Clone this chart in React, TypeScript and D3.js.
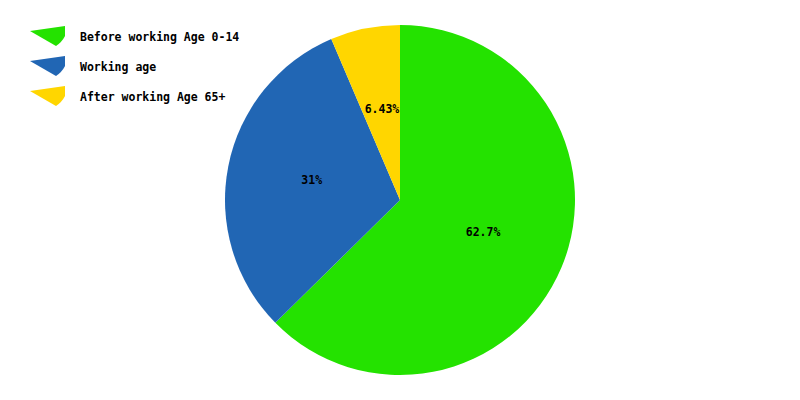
import React from "react";
import * as d3 from "d3";

const categories = ["Before working Age 0-14", "Working age", "After working Age 65+"];
const values = [62.7, 31, 6.43];
const labels = ["62.7%", "31%", "6.43%"];
const colors = ["#24e200", "#2166b4", "#ffd600"];

export default function App() {
  const W = 800, H = 400;
  const cx = 400, cy = 200, R = 175;
  const pie = d3.pie<number>().sort(null).value((d) => d).startAngle(0).endAngle(2 * Math.PI);
  const arcs = pie(values);
  const arc = d3.arc<d3.PieArcDatum<number>>().innerRadius(0).outerRadius(R);
  const labelArc = d3.arc<d3.PieArcDatum<number>>().innerRadius(180).outerRadius(0);
  const font = "'DejaVu Sans Mono', monospace";
  const iconPath = "M30,31 L65,26 L65,36 Q62,42 56,46 Z";
  return (
    <svg width={W} height={H} style={{ position: "absolute", left: 0, top: 0 }}>
      <rect width={W} height={H} fill="#fff" />
      <g transform={`translate(${cx},${cy})`}>
        {arcs.map((a, i) => (
          <path key={i} d={arc(a) || ""} fill={colors[i]} />
        ))}
        {arcs.map((a, i) => {
          const [x, y] = labelArc.centroid(a);
          return (
            <text key={"l" + i} x={x} y={y + 1} textAnchor="middle" fontFamily={font} fontWeight="bold" fontSize={11.5} fill="#000">
              {labels[i]}
            </text>
          );
        })}
      </g>
      {categories.map((c, i) => (
        <g key={"g" + i} transform={`translate(0,${i * 30})`}>
          <path d={iconPath} fill={colors[i]} />
          <text x={80} y={41} fontFamily={font} fontWeight="bold" fontSize={11.5} fill="#000">
            {c}
          </text>
        </g>
      ))}
    </svg>
  );
}
